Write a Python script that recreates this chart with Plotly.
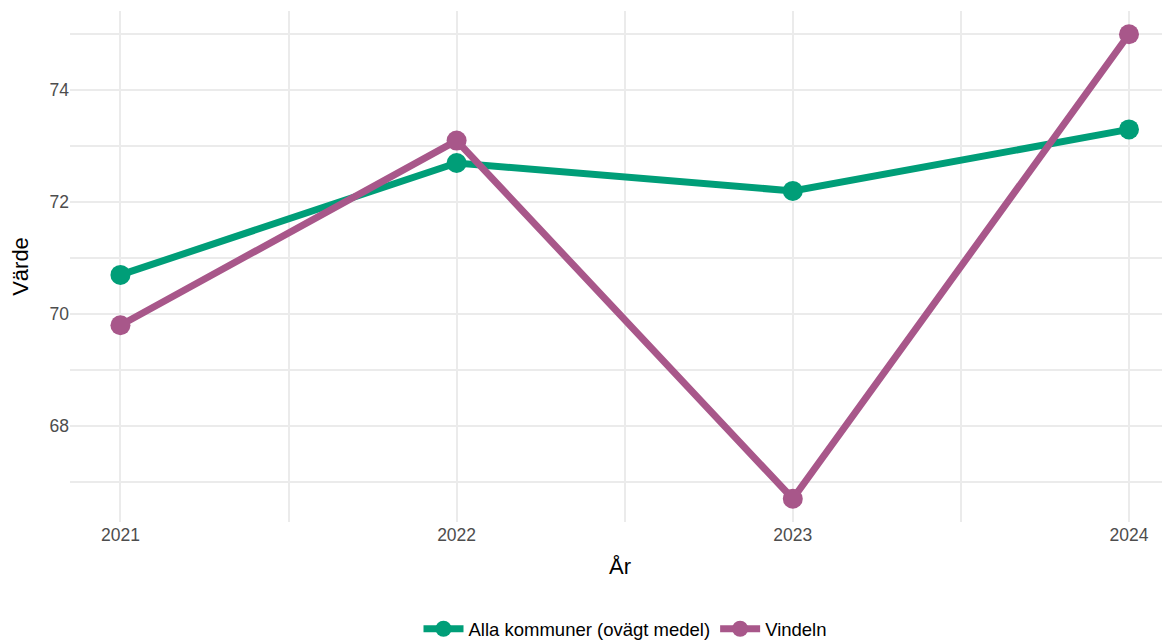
import plotly.graph_objects as go

years = [2021, 2022, 2023, 2024]
alla = [70.7, 72.7, 72.2, 73.3]
vindeln = [69.8, 73.1, 66.7, 75.0]
series_names = ["Alla kommuner (ovägt medel)", "Vindeln"]
colors = ["#009E78", "#A8578A"]

fig = go.Figure()
for name, vals, col in zip(series_names, [alla, vindeln], colors):
    fig.add_trace(go.Scatter(
        x=years, y=vals, name=name, mode="lines+markers",
        line=dict(color=col, width=7),
        marker=dict(color=col, size=20),
    ))

font = "Liberation Sans, Arial, sans-serif"
fig.update_layout(
    width=1162, height=632,
    paper_bgcolor="white", plot_bgcolor="white",
    margin=dict(l=62, r=0, t=3, b=118, autoexpand=False),
    font=dict(family=font, size=17.5, color="#4D4D4D"),
    showlegend=True,
    legend=dict(orientation="h", yref="container", y=0.017, yanchor="middle",
                x=0.505, xanchor="center", font=dict(size=18.5, color="black"),
                itemwidth=40),
    xaxis=dict(
        range=[2020.85, 2024.122], tickmode="array", tickvals=years,
        ticktext=[str(y) for y in years],
        showgrid=True, gridcolor="#EBEBEB", gridwidth=2,
        zeroline=False, showline=False, ticks="",
        minor=dict(tickmode="linear", tick0=2020.5, dtick=0.5, showgrid=True,
                   gridcolor="#EBEBEB", gridwidth=1.5),
        title=dict(text="År", font=dict(size=22, color="black"), standoff=15),
        tickfont=dict(size=17.5, color="#4D4D4D"),
        automargin=False,
    ),
    yaxis=dict(
        range=[66.285, 75.415], tickmode="linear", tick0=68, dtick=2,
        showgrid=True, gridcolor="#EBEBEB", gridwidth=2,
        zeroline=False, showline=False, ticks="",
        minor=dict(tickmode="linear", tick0=67, dtick=1, showgrid=True,
                   gridcolor="#EBEBEB", gridwidth=1.5),
        title=dict(text="Värde", font=dict(size=22, color="black"), standoff=16),
        tickfont=dict(size=17.5, color="#4D4D4D"),
        automargin=False,
    ),
)

fig.write_html("out.html")
